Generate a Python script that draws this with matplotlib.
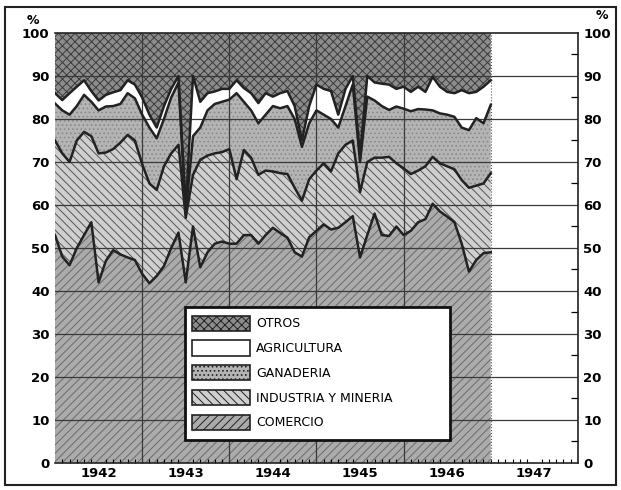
import numpy as np
import matplotlib
matplotlib.use("Agg")
import matplotlib.pyplot as plt
from matplotlib.patches import Patch, Rectangle

# porcentajes acumulados, mensuales ene 1942 - ene 1947
comercio = [53, 48, 46, 50, 53, 56, 42, 47, 49.5, 48.5, 47.8, 47.2,
            44, 41.8, 43.5, 45.8, 50, 53.6, 42, 55, 45.5, 49, 51, 51.5,
            51, 51, 53, 53, 51, 53, 54.7, 53.5, 52.4, 49, 48, 52.5,
            54, 55.5, 54.3, 54.7, 56, 57.4, 47.8, 53, 58, 53, 52.8, 55,
            53, 54, 56, 56.7, 60.3, 58.5, 57.3, 56, 51, 44.5, 47.2, 48.8,
            49]
industria = [75, 72, 70, 75, 77, 76, 72, 72.2, 73, 74.5, 76.3, 75,
             69.5, 65, 63.5, 69, 72, 74, 57, 67, 70.5, 71.5, 72, 72.3,
             73, 66, 72.8, 71, 67, 68, 67.8, 67.4, 67.2, 64, 61, 66,
             68, 69.7, 67.8, 72, 74, 75, 63, 70, 71, 71, 71.2, 69.7,
             68.5, 67.2, 68, 69, 71.2, 69.7, 69, 68.3, 65.8, 64, 64.5, 65,
             67.4]
ganaderia = [83.6, 82, 81, 83, 85.6, 84, 82, 82.9, 83, 83.5, 86, 84.8,
             81, 78, 75.5, 80, 85, 88.5, 58, 76, 78, 82, 83.5, 84,
             84.5, 86, 84, 82, 79, 81, 83, 82.5, 83, 80, 73.5, 79,
             82, 81, 80, 78, 83, 88, 70, 85.2, 84.3, 83, 82.1, 82.9,
             82.4, 81.8, 82.3, 82.2, 82, 81.3, 81, 80.5, 78, 77.4, 80.2, 79,
             83.3]
agricultura = [86, 84.4, 86, 87.5, 89, 86.5, 84.3, 85.6, 86.2, 86.7, 89, 88,
               85, 81, 78, 83, 87, 90, 59, 90, 84, 86, 86.4, 87,
               87, 89, 87.2, 86, 83.7, 86, 85.2, 86, 86.5, 83, 75, 83,
               88, 87, 86.5, 81, 87, 90, 71.5, 90, 88.5, 88.2, 88, 87,
               87.5, 86.3, 87.5, 86.3, 89.8, 87.5, 86.3, 86, 86.7, 86, 86.3, 87.5,
               89]
years = [1942, 1943, 1944, 1945, 1946, 1947]
labels = ["OTROS", "AGRICULTURA", "GANADERIA", "INDUSTRIA Y MINERIA", "COMERCIO"]

fecha = 1942 + np.arange(len(comercio)) / 12.0
tope = np.full(len(fecha), 100.0)

plt.rcParams["hatch.linewidth"] = 0.7
plt.rcParams["font.family"] = "DejaVu Sans"

fig = plt.figure(figsize=(6.21, 4.9), dpi=100)
ax = fig.add_axes([0.0886, 0.0551, 0.842, 0.8776])

estilos = [
    # (abajo, arriba, fondo, trama, color trama)
    (agricultura, tope, "#8c8c8c", "xxxx", "#3c3c3c"),
    (ganaderia, agricultura, "#ffffff", None, "#ffffff"),
    (industria, ganaderia, "#b4b4b4", "....", "#8a8a8a"),
    (comercio, industria, "#cfcfcf", "\\\\\\\\", "#555555"),
    (np.zeros(len(fecha)), comercio, "#ababab", "////", "#6a6a6a"),
]
for lo, hi, fc, ht, hc in estilos:
    ax.fill_between(fecha, lo, hi, facecolor=fc, hatch=ht, edgecolor=hc,
                    linewidth=0, zorder=1)

# cuadricula
for v in range(10, 100, 10):
    ax.axhline(v, color="#3a3a3a", lw=0.9, zorder=2)
for y in years[1:-1]:
    ax.axvline(y, color="#3a3a3a", lw=0.9, zorder=2)
ax.axvline(fecha[-1], color="#555555", lw=0.8, ls=":", zorder=2)

for serie in [comercio, industria, ganaderia, agricultura]:
    ax.plot(fecha, serie, color="#222222", lw=1.8, zorder=3)

ax.set_xlim(1942, 1948)
ax.set_ylim(0, 100)

ax.set_xticks([y + 0.5 for y in years])
ax.set_xticklabels([str(y) for y in years], fontsize=9.5, fontweight="bold")
ax.set_xticks(1942 + np.arange(1, 72) / 12.0, minor=True)
ax.tick_params(axis="x", which="major", length=0, pad=3)
ax.tick_params(axis="x", which="minor", direction="in", length=3, width=0.8)

ax.set_yticks(range(0, 101, 10))
ax.set_yticklabels([str(v) for v in range(0, 101, 10)], fontsize=9.5, fontweight="bold")
ax.set_yticks(range(5, 100, 10), minor=True)
ax.tick_params(axis="y", which="both", left=False, right=True, labelright=True,
               direction="in", pad=4)
ax.tick_params(axis="y", which="minor", length=5, width=0.9)
ax.tick_params(axis="y", which="major", length=0)

for s in ax.spines.values():
    s.set_linewidth(1.2)
    s.set_color("#222222")
ax.spines["left"].set_visible(False)

ax.text(-0.043, 1.015, "%", transform=ax.transAxes, fontsize=9, fontweight="bold",
        ha="center", va="bottom")
ax.text(1.045, 1.025, "%", transform=ax.transAxes, fontsize=9, fontweight="bold",
        ha="center", va="bottom")

# caja de la leyenda
ax.add_patch(Rectangle((0.2486, 0.0535), 0.5067, 0.3093, transform=ax.transAxes,
                       facecolor="white", edgecolor="#111111", linewidth=2, zorder=5))
handles = [Patch(facecolor=fc, hatch=ht, edgecolor="#222222", linewidth=1.2)
           for lo, hi, fc, ht, hc in estilos]
leg = ax.legend(handles, labels, loc="upper left", bbox_to_anchor=(0.262, 0.343),
                frameon=False, fontsize=9, handlelength=4.6, handleheight=1.5,
                labelspacing=0.76, borderpad=0, handletextpad=0.55,
                borderaxespad=0)
leg.set_zorder(6)

fig.patches.append(Rectangle((0.008, 0.01), 0.984, 0.976, transform=fig.transFigure,
                             fill=False, edgecolor="#222222", linewidth=1.5))

fig.savefig("out.png", dpi=100)
